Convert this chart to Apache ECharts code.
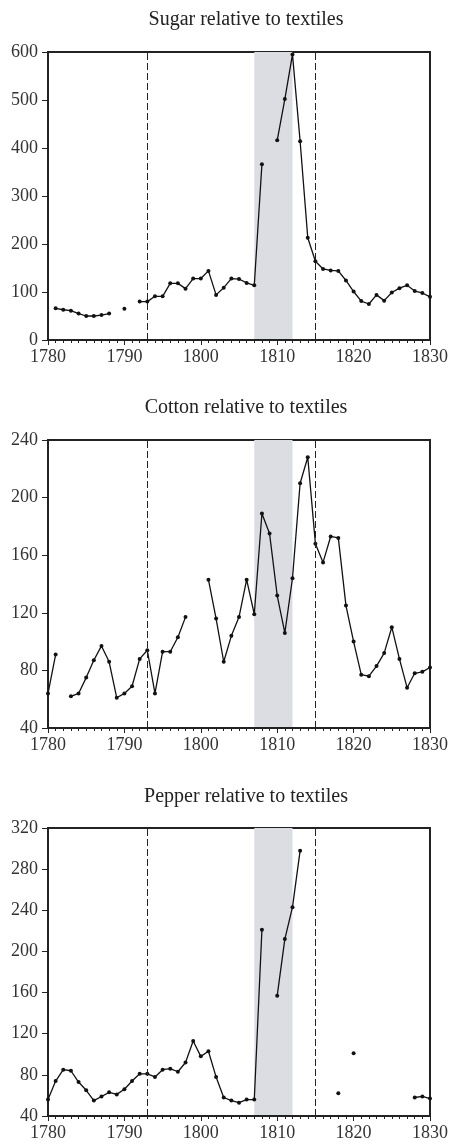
<!DOCTYPE html>
<html>
<head>
<meta charset="utf-8">
<script src="https://cdn.jsdelivr.net/npm/echarts@6/dist/echarts.min.js"></script>
<style>
  html, body { margin: 0; padding: 0; background: #fff; }
  #chart { width: 451px; height: 1142px; }
</style>
</head>
<body>
<div id="chart"></div>
<script>
// years 1780..1830, null = no observation
var years = [];
for (var y = 1780; y <= 1830; y++) years.push(y);

var sugar = [
    null, 66, 63, 61, 55, 50, 50, 52, 55, null,
    65, null, 80, 80, 91, 91, 118, 118, 107, 128,
    128, 144, 94, 109, 128, 127, 119, 114, 366, null,
    416, 502, 595, 414, 213, 164, 148, 145, 144, 124,
    101, 81, 75, 94, 82, 99, 108, 114, 102, 98,
    90
];
var cotton = [
    64, 91, null, 62, 64, 75, 87, 97, 86, 61,
    64, 69, 88, 94, 64, 93, 93, 103, 117, null,
    null, 143, 116, 86, 104, 117, 143, 119, 189, 175,
    132, 106, 144, 210, 228, 168, 155, 173, 172, 125,
    100, 77, 76, 83, 92, 110, 88, 68, 78, 79,
    82
];
var pepper = [
    56, 74, 85, 84, 73, 65, 55, 59, 63, 61,
    66, 74, 81, 81, 78, 85, 86, 83, 92, 113,
    98, 103, 78, 58, 55, 53, 56, 56, 221, null,
    157, 212, 243, 298, null, null, null, null, 62, null,
    101, null, null, null, null, null, null, null, 58, 59,
    57
];

var titles = ["Sugar relative to textiles", "Cotton relative to textiles", "Pepper relative to textiles"];
var yRanges = [[0, 600, 100], [40, 240, 40], [40, 320, 40]];
var gridTops = [52, 440, 828];
var titleTops = [5, 393, 782];
var plotH = 288;

var shade = [1807, 1812];
var breaks = [1793, 1815];

function pairs(vals) {
    return years.map(function (yr, i) {
        return [yr, vals[i] == null ? "-" : vals[i]];
    });
}

var seriesData = [sugar, cotton, pepper];
var axisText = { color: "#333", fontFamily: "Liberation Serif", fontSize: 18 };

var option = {
    animation: false,
    title: [],
    grid: [],
    xAxis: [],
    yAxis: [],
    series: []
};

for (var k = 0; k < 3; k++) {
    option.title.push({
        text: titles[k],
        left: 241, textAlign: "center", top: titleTops[k],
        textStyle: { color: "#222", fontFamily: "Liberation Serif", fontSize: 20, fontWeight: "normal" }
    });
    option.grid.push({
        left: 48, right: 18, top: gridTops[k], height: plotH,
        show: true, borderColor: "#222", borderWidth: 2, backgroundColor: "transparent"
    });
    option.xAxis.push({
        type: "value", gridIndex: k, min: 1780, max: 1830, interval: 10, position: "bottom", z: 10,
        axisLine: { show: true, onZero: false, lineStyle: { color: "#222", width: 2 } },
        axisTick: { show: true, length: 5, lineStyle: { color: "#222", width: 1 } },
        minorTick: { show: true, splitNumber: 10, length: 3, lineStyle: { color: "#222", width: 1 } },
        splitLine: { show: false },
        minorSplitLine: { show: false },
        axisLabel: Object.assign({ margin: 8, formatter: function (v) { return String(v); } }, axisText)
    });
    option.yAxis.push({
        type: "value", gridIndex: k, min: yRanges[k][0], max: yRanges[k][1], interval: yRanges[k][2],
        axisLine: { show: true, lineStyle: { color: "#222", width: 2 } },
        axisTick: { show: true, length: 6, lineStyle: { color: "#222", width: 1 } },
        splitLine: { show: false },
        axisLabel: Object.assign({ margin: 10 }, axisText)
    });
    option.series.push({
        type: "line", xAxisIndex: k, yAxisIndex: k,
        data: pairs(seriesData[k]),
        connectNulls: false,
        showAllSymbol: true,
        symbol: "circle", symbolSize: 4,
        itemStyle: { color: "#111" },
        lineStyle: { color: "#111", width: 1.3 },
        markArea: {
            silent: true,
            itemStyle: { color: "#dcdde3" },
            data: [[{ xAxis: shade[0] }, { xAxis: shade[1] }]]
        },
        markLine: {
            silent: true, symbol: "none",
            label: { show: false },
            lineStyle: { color: "#222", type: [7, 3], width: 1 },
            data: breaks.map(function (b) { return { xAxis: b }; })
        }
    });
}

var chart = echarts.init(document.getElementById("chart"));
chart.setOption(option);
window.addEventListener("resize", function () { chart.resize(); });
</script>
</body>
</html>
